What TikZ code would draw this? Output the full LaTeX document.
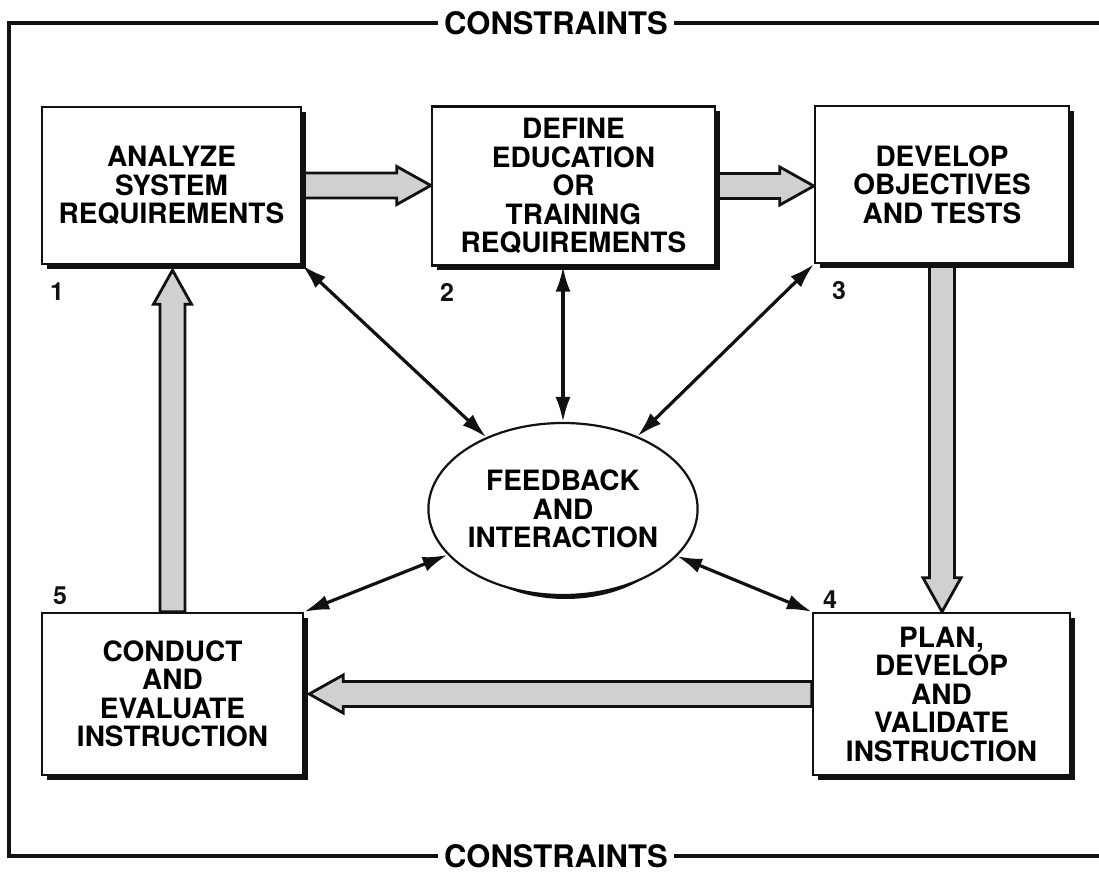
\documentclass[tikz,border=0pt]{standalone}
\usepackage{fontspec}
\setmainfont{TeX Gyre Heros}
\usepackage{tikz}
\usetikzlibrary{shapes.geometric, arrows.meta, calc, backgrounds}
\definecolor{ink}{HTML}{111111}
\definecolor{screen}{HTML}{D0D0D0}

\tikzset{
  stage/.style={draw=ink, line width=2.4pt, fill=white, align=center, inner sep=0pt,
    font=\bfseries\fontsize{28}{28.5}\selectfont},
  stagenum/.style={font=\bfseries\fontsize{25}{25}\selectfont, text=ink},
  link/.style={draw=ink, line width=3.2pt,
    {Latex[length=25pt,width=15pt]}-{Latex[length=25pt,width=15pt]}},
  flow/.style={draw=ink, line width=2.8pt, fill=screen, line join=miter},
  frame/.style={draw=ink, line width=3.4pt},
  heading/.style={font=\bfseries\fontsize{31}{31}\selectfont, fill=white, inner xsep=6pt},
}

% wide hollow arrow from #1 to #2
\newcommand{\flowarrow}[2]{%
  \coordinate (hb) at ($(#2)!34pt!(#1)$);
  \draw[flow] ($(#1)!12.5pt!90:(#2)$) -- ($(hb)!12.5pt!-90:(#1)$)
    -- ($(hb)!19pt!-90:(#1)$) -- (#2) -- ($(hb)!19pt!90:(#1)$)
    -- ($(hb)!12.5pt!90:(#1)$) -- ($(#1)!12.5pt!-90:(#2)$) -- cycle;
}

\begin{document}
\begin{tikzpicture}[x=1pt, y=1pt]
  \useasboundingbox (0,0) rectangle (1099,873);
  % Constraints frame
  \node[heading] (ctop) at (556,850) {CONSTRAINTS};
  \node[heading] (cbot) at (556,17) {CONSTRAINTS};
  \coordinate (nw) at (9,850);
  \coordinate (sw) at (9,17);
  \begin{scope}[on background layer]
    \draw[frame] (ctop.west) -- (nw) -- (sw) -- (cbot.west);
    \draw[frame] (ctop.east) -- ++(440,0);
    \draw[frame] (cbot.east) -- ++(440,0);
  \end{scope}
  % Stages, each with its shadow
  \foreach \n/\x/\y/\w/\h/\t in {
      b1/171.5/687.5/259/157/{ANALYZE\\SYSTEM\\REQUIREMENTS},
      b2/573.5/687/283/159/{DEFINE\\EDUCATION\\OR\\TRAINING\\REQUIREMENTS},
      b3/942/688.5/254/157/{DEVELOP\\OBJECTIVES\\AND TESTS},
      b4/941.5/179/257/162/{PLAN,\\DEVELOP\\AND\\VALIDATE\\INSTRUCTION},
      b5/172.5/179/261/162/{CONDUCT\\AND\\EVALUATE\\INSTRUCTION}} {
    \fill[ink] (\x-\w/2+5,\y-\h/2-5) rectangle (\x+\w/2+5,\y+\h/2-5);
    \node[stage, minimum width=\w pt, minimum height=\h pt] (\n) at (\x,\y) {\t};
  }
  \node[stagenum] (n1) at (57,581) {1};
  \node[stagenum] (n2) at (447,581) {2};
  \node[stagenum] (n3) at (839,582) {3};
  \node[stagenum] (n4) at (830,273) {4};
  \node[stagenum] (n5) at (60,277) {5};
  % Feedback
  \fill[ink] (565.5,361) ellipse [x radius=121, y radius=87];
  \node[ellipse, draw=ink, line width=2.2pt, fill=white, align=center, inner sep=0pt,
    minimum width=240pt, minimum height=172pt, font=\bfseries\fontsize{28}{28.5}\selectfont]
    (fb) at (563,364) {FEEDBACK\\AND\\INTERACTION};
  \draw[link] (b1.south east) -- (fb);
  \draw[link] (fb.north |- b2.south) -- (fb.north);
  \draw[link] (b3.south west) -- (fb);
  \draw[link] (b4.north west) -- (fb);
  \draw[link] (b5.north east) -- (fb);
  % Main flow
  \coordinate (t1) at ($(b1.south)+(0,-5pt)$);
  \coordinate (t5) at ($(b5.east)+(5pt,0)$);
  \begin{scope}[on background layer]
    \flowarrow{b1.east}{b1.east -| b2.west}
    \flowarrow{b2.east}{b2.east -| b3.west}
    \flowarrow{b3.south}{b3.south |- b4.north}
    \flowarrow{b4.west}{b4.west -| t5}
    \flowarrow{b5.north}{b5.north |- t1}
  \end{scope}
\end{tikzpicture}
\end{document}
